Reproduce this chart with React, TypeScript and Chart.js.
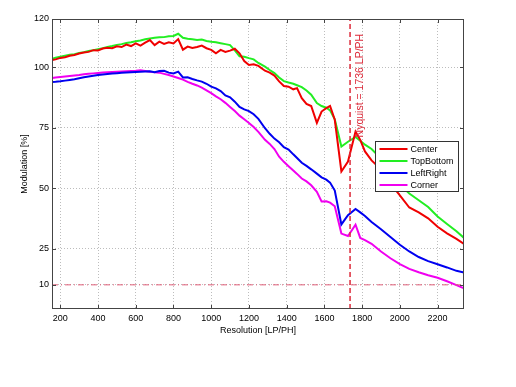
import React, { useEffect, useRef } from 'react';
import { Chart, registerables } from 'chart.js';

Chart.register(...registerables);

// ---- data ----
const resolution = [
  157, 175, 200, 225, 250, 275, 300, 325, 350, 375, 400, 425, 450, 475, 500, 525, 550, 575, 600, 625,
  650, 675, 700, 725, 750, 775, 800, 825, 850, 875, 900, 925, 950, 975, 1000, 1025, 1050, 1075, 1100, 1125,
  1150, 1175, 1200, 1225, 1250, 1285, 1310, 1335, 1360, 1385, 1410, 1435, 1455, 1480, 1505, 1530, 1560, 1585, 1610, 1630,
  1655, 1690, 1725, 1765, 1790, 1815, 1850, 1900, 1950, 2000, 2050, 2100, 2150, 2200, 2250, 2300, 2340,
];

const center = [
  103.0, 103.3, 103.9, 104.2, 104.8, 105.1, 105.7, 106.1, 106.4, 107.1, 107.0, 107.8, 108.1, 107.9, 108.7, 108.4, 109.4, 108.8, 109.9, 109.0,
  110.2, 111.3, 109.2, 110.6, 109.7, 110.4, 109.9, 111.7, 107.3, 108.6, 108.0, 108.4, 109.0, 107.9, 107.2, 105.8, 107.2, 106.4, 106.9, 107.7,
  105.8, 102.6, 101.0, 101.3, 100.6, 98.6, 97.8, 96.6, 94.2, 92.3, 92.0, 90.9, 91.4, 87.2, 84.9, 84.0, 77.0, 81.7, 83.1, 84.0,
  78.3, 56.9, 61.0, 73.4, 70.0, 65.2, 61.5, 57.8, 52.0, 47.0, 42.0, 40.0, 37.5, 34.0, 31.3, 29.0, 26.9,
];

const topBottom = [
  103.6, 104.0, 104.4, 104.8, 105.2, 105.4, 105.9, 106.3, 106.8, 107.1, 107.5, 107.9, 108.4, 108.8, 109.3, 109.6, 110.1, 110.4, 110.8, 111.1,
  111.6, 111.9, 112.2, 112.4, 112.5, 112.9, 113.0, 113.9, 112.2, 111.8, 111.6, 111.3, 111.5, 110.9, 110.6, 110.4, 110.0, 109.6, 109.2, 107.0,
  104.6, 104.4, 103.8, 103.3, 101.8, 100.3, 98.9, 97.6, 95.8, 94.3, 93.7, 93.2, 92.6, 91.8, 90.4, 88.7, 85.2, 84.0, 83.3, 82.2,
  78.5, 67.2, 69.2, 71.2, 69.6, 68.0, 66.2, 62.3, 57.0, 51.5, 47.8, 45.0, 42.2, 38.3, 35.2, 32.2, 29.4,
];

const leftRight = [
  93.9, 94.0, 94.2, 94.5, 94.8, 95.1, 95.5, 95.9, 96.2, 96.5, 96.8, 97.0, 97.2, 97.4, 97.6, 97.8, 97.9, 98.0, 98.1, 98.2,
  98.3, 98.4, 98.0, 98.5, 98.6, 97.8, 97.5, 98.2, 95.8, 95.9, 95.2, 94.6, 94.1, 93.2, 92.0, 91.3, 90.2, 88.4, 87.6, 85.8,
  83.6, 82.6, 81.9, 80.6, 78.7, 74.8, 72.5, 70.5, 69.0, 67.0, 66.0, 64.0, 62.5, 60.5, 59.2, 57.8, 56.0, 54.5, 53.5, 52.3,
  49.0, 35.0, 38.8, 41.4, 40.0, 38.5, 36.0, 33.0, 29.8, 26.6, 23.8, 21.5, 19.8, 18.5, 17.2, 15.8, 15.1,
];

const corner = [
  95.6, 95.8, 96.0, 96.2, 96.4, 96.6, 96.8, 97.1, 97.3, 97.5, 97.7, 97.9, 98.0, 98.1, 98.2, 98.3, 98.4, 98.5, 98.6, 98.8,
  98.5, 98.2, 98.0, 97.8, 97.3, 96.8, 96.2, 95.6, 94.9, 94.0, 93.2, 92.5, 91.6, 90.5, 89.3, 88.0, 86.8, 85.3, 83.6, 81.9,
  80.0, 78.5, 77.0, 75.3, 73.3, 70.0, 68.3, 66.2, 63.0, 60.9, 59.1, 57.3, 55.9, 54.0, 52.8, 51.2, 48.5, 44.5, 44.6, 44.0,
  42.5, 31.2, 30.2, 34.9, 29.4, 28.5, 27.0, 23.8, 21.0, 18.6, 16.6, 15.2, 14.0, 12.9, 11.5, 9.9, 8.6,
];

const seriesLabels = ['Center', 'TopBottom', 'LeftRight', 'Corner'];
const seriesColors = ['#f00000', '#22ee22', '#0000f0', '#f000f0'];
const xTicks = [200, 400, 600, 800, 1000, 1200, 1400, 1600, 1800, 2000, 2200];
const yTicks = [10, 25, 50, 75, 100, 120];
const xRange = [156, 2340];
const yRange = [0, 120];
const nyquist = 1736;
const threshold = 10;
const nyquistLabel = 'Nyquist = 1736 LP/PH';
const xTitle = 'Resolution [LP/PH]';
const yTitle = 'Modulation [%]';

const FONT = '"Liberation Sans", Arial, Helvetica, sans-serif';
const NYQ_COLOR = '#dd2a3a';

const decorPlugin = {
  id: 'decor',
  afterDatasetsDraw(chart: any) {
    const { ctx, chartArea: a, scales } = chart;
    const xs = scales.x;
    const ys = scales.y;
    ctx.save();

    // Nyquist label (rotated)
    const lx = xs.getPixelForValue(nyquist);
    ctx.fillStyle = NYQ_COLOR;
    ctx.font = `10.5px ${FONT}`;
    ctx.translate(lx + 10, ys.getPixelForValue(71));
    ctx.rotate(-Math.PI / 2);
    ctx.textAlign = 'left';
    ctx.textBaseline = 'middle';
    ctx.fillText(nyquistLabel, 0, 0);
    ctx.setTransform(1, 0, 0, 1, 0, 0);

    // Frame
    ctx.strokeStyle = '#444';
    ctx.lineWidth = 1;
    ctx.setLineDash([]);
    ctx.strokeRect(Math.round(a.left) + 0.5, Math.round(a.top) + 0.5, Math.round(a.right - a.left) - 1, Math.round(a.bottom - a.top) - 1);

    // inward tick marks on all sides
    const tl = 4;
    ctx.beginPath();
    for (const v of xTicks) {
      const px = Math.round(xs.getPixelForValue(v)) + 0.5;
      ctx.moveTo(px, a.bottom);
      ctx.lineTo(px, a.bottom - tl);
      ctx.moveTo(px, a.top);
      ctx.lineTo(px, a.top + tl);
    }
    for (const v of yTicks) {
      const py = Math.round(ys.getPixelForValue(v)) + 0.5;
      ctx.moveTo(a.left, py);
      ctx.lineTo(a.left + tl, py);
      ctx.moveTo(a.right, py);
      ctx.lineTo(a.right - tl, py);
    }
    ctx.stroke();

    // Legend box
    ctx.font = `9px ${FONT}`;
    let maxW = 0;
    for (const s of seriesLabels) maxW = Math.max(maxW, ctx.measureText(s).width);
    const boxW = Math.round(36 + maxW + 4);
    const rowH = 12;
    const boxH = 50;
    const bx = Math.round(a.right - 6 - boxW) + 0.5;
    const by = Math.round(a.top + 122) + 0.5;
    ctx.fillStyle = '#fff';
    ctx.fillRect(bx, by, boxW, boxH);
    ctx.strokeStyle = '#333';
    ctx.lineWidth = 1;
    ctx.strokeRect(bx, by, boxW, boxH);
    ctx.textAlign = 'left';
    ctx.textBaseline = 'middle';
    seriesLabels.forEach((s, i) => {
      const ry = by + 7.5 + i * rowH;
      ctx.strokeStyle = seriesColors[i];
      ctx.lineWidth = 2;
      ctx.beginPath();
      ctx.moveTo(bx + 4, ry);
      ctx.lineTo(bx + 32, ry);
      ctx.stroke();
      ctx.fillStyle = '#000';
      ctx.fillText(s, bx + 35, ry + 0.5);
    });

    ctx.restore();
  },
};

export default function App() {
  const ref = useRef<HTMLCanvasElement | null>(null);

  useEffect(() => {
    if (!ref.current) return;
    const series = [center, topBottom, leftRight, corner];
    const datasets: any[] = [
      {
        label: 'threshold',
        data: [{ x: xRange[0], y: threshold }, { x: xRange[1], y: threshold }],
        borderColor: '#e0607a',
        borderWidth: 1,
        borderDash: [6, 3, 1, 3],
        pointRadius: 0,
      },
      {
        label: 'nyquist',
        data: [{ x: nyquist, y: yRange[0] }, { x: nyquist, y: yRange[1] }],
        borderColor: NYQ_COLOR,
        borderWidth: 1.5,
        borderDash: [5, 3],
        pointRadius: 0,
      },
      ...series.map((vals, i) => ({
        label: seriesLabels[i],
        data: resolution.map((r, j) => ({ x: r, y: vals[j] })),
        borderColor: seriesColors[i],
        borderWidth: 2,
        pointRadius: 0,
        tension: 0,
      })),
    ];

    const grid = { color: '#bdbdbd', lineWidth: 1, drawTicks: false };
    const chart = new Chart(ref.current, {
      type: 'line',
      data: { datasets },
      plugins: [decorPlugin],
      options: {
        responsive: false,
        animation: false,
        devicePixelRatio: 1,
        layout: { padding: { left: 0, right: 52, top: 19, bottom: 0 } },
        plugins: { legend: { display: false }, tooltip: { enabled: false } },
        elements: { point: { radius: 0 }, line: { tension: 0 } },
        font: { family: FONT, size: 9 },
        scales: {
          x: {
            type: 'linear',
            min: xRange[0],
            max: xRange[1],
            afterBuildTicks: (s: any) => {
              s.ticks = xTicks.map((v) => ({ value: v }));
            },
            afterFit: (s: any) => {
              s.height = 78;
            },
            grid,
            border: { display: false, dash: [1, 2] },
            ticks: {
              color: '#000',
              padding: 4,
              maxRotation: 0,
              autoSkip: false,
              font: { family: FONT, size: 9 },
              callback: (v: any) => String(v),
            },
            title: {
              display: true,
              text: xTitle,
              color: '#000',
              font: { family: FONT, size: 9 },
              padding: { top: 0, bottom: 50.6 },
            },
          },
          y: {
            type: 'linear',
            min: yRange[0],
            max: yRange[1],
            afterBuildTicks: (s: any) => {
              s.ticks = yTicks.map((v) => ({ value: v }));
            },
            afterFit: (s: any) => {
              s.width = 52;
            },
            grid,
            border: { display: false, dash: [1, 2] },
            ticks: {
              color: '#000',
              padding: 3,
              autoSkip: false,
              font: { family: FONT, size: 9 },
              callback: (v: any) => String(v),
            },
            title: {
              display: true,
              text: yTitle,
              color: '#000',
              font: { family: FONT, size: 9 },
              padding: { top: 19.6, bottom: 0 },
            },
          },
        },
      } as any,
    });
    return () => chart.destroy();
  }, []);

  return (
    <div style={{ position: 'fixed', left: 0, top: 0, width: 516, height: 387, background: '#fff' }}>
      <canvas ref={ref} width={516} height={387} style={{ width: 516, height: 387, display: 'block' }} />
    </div>
  );
}
